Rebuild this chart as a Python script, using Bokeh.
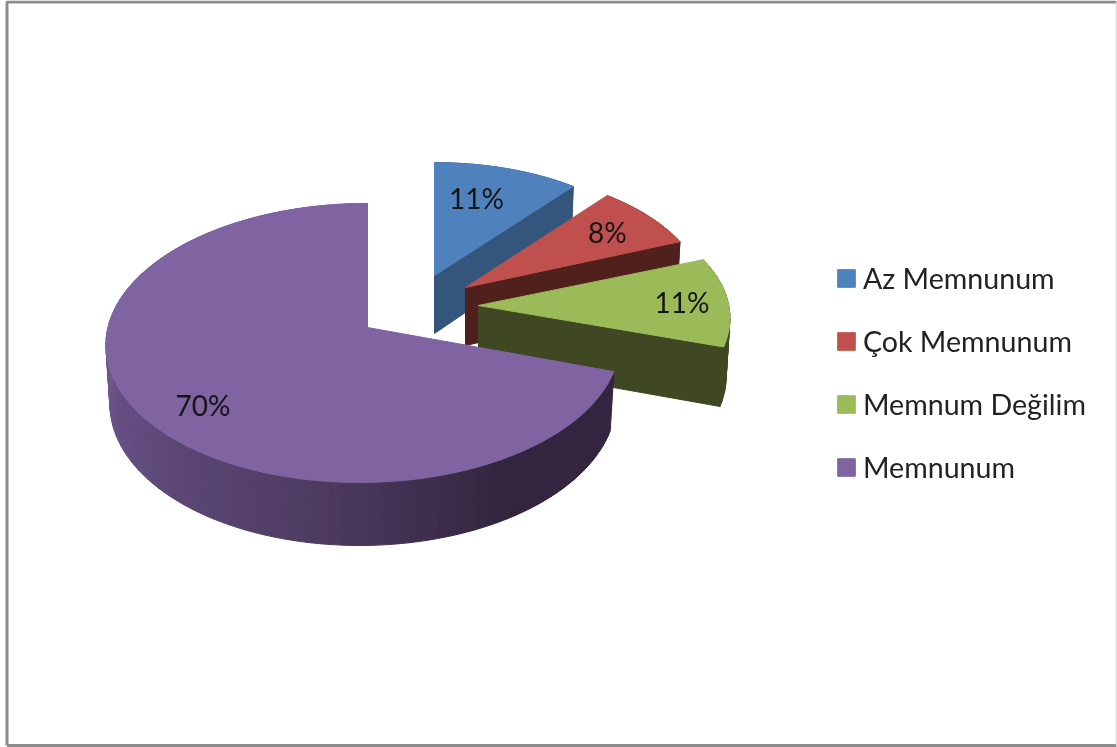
import math
from bokeh.plotting import figure
from bokeh.embed import file_html
from bokeh.resources import INLINE
from bokeh.models import Legend, LegendItem, Range1d
from bokeh.core.properties import value

# ---- data
categories = ["Az Memnunum", "Çok Memnunum", "Memnum Değilim", "Memnunum"]
percents = [11, 8, 11, 70]

# ---- style
top_colors = ["#4f81bd", "#c0504d", "#9bbb59", "#8064a2"]
side_colors = ["#34567c", "#50201c", "#3f4822", None]
grad_thetas = [108, 150, 190, 230, 275]
grad_colors = ["#33253f", "#33253f", "#4f3c61", "#5f4a7c", "#70588f"]
FONT = "Lato"

# ---- layout of the exploded pie (page pixels)
WIDTH, HEIGHT = 1117, 747
apex_x = [434, 465, 478, 367]
apex_y = [275, 287, 305, 327]
scale_x = [0.93, 0.95, 0.995, 1.0]
scale_y = [0.91, 0.94, 0.94, 1.0]
label_r = [0.69, 0.765, 0.815, 0.79]
label_shift = [-3.8, 0, 0, -6]
BX, BY, K, SHEAR = 255.5, 137.8, -0.111, 4.0
DEPTH, DEPTH_GROW, BOTTOM_SHRINK = 58.0, 5.0, 0.985


def project(i, theta, r=1.0, down=False):
    a = math.radians(theta)
    X, Y = r * math.sin(a), -r * math.cos(a)
    w = 1 + K * Y
    dx = scale_x[i] * (BX * X / w - SHEAR * (r + Y))
    dy = scale_y[i] * BY * Y / w
    if down:
        return apex_x[i] + BOTTOM_SHRINK * dx, apex_y[i] + dy + DEPTH + DEPTH_GROW * Y
    return apex_x[i] + dx, apex_y[i] + dy


def mix(theta):
    t = min(max(theta, grad_thetas[0]), grad_thetas[-1])
    for j in range(len(grad_thetas) - 1):
        if t <= grad_thetas[j + 1]:
            f = (t - grad_thetas[j]) / (grad_thetas[j + 1] - grad_thetas[j])
            c0, c1 = grad_colors[j], grad_colors[j + 1]
            rgb = [round(int(c0[k:k + 2], 16) * (1 - f) + int(c1[k:k + 2], 16) * f) for k in (1, 3, 5)]
            return "#%02x%02x%02x" % tuple(rgb)
    return grad_colors[-1]


p = figure(width=WIDTH, height=HEIGHT, output_backend="svg", toolbar_location=None,
           x_range=Range1d(0, WIDTH), y_range=Range1d(HEIGHT, 0),
           min_border=0, outline_line_color=None, background_fill_color="white")
p.axis.visible = False
p.grid.visible = False
p.styles = {"position": "fixed", "left": "0", "top": "0"}

# frame
p.line([6.5, 6.5, 1116], [745, 1.5, 1.5], line_color="#8c8c8c", line_width=3)
p.line([6.5, 1116], [745, 745], line_color="#8c8c8c", line_width=3)
p.line([1116, 1116], [1.5, 745], line_color="#d8d8d8", line_width=1.5)

total = sum(percents)
start = 0.0
legend_items = []
labels = []
for i, pct in enumerate(percents):
    sweep = 360.0 * pct / total
    end = start + sweep
    n = max(2, int(sweep / 2))
    thetas = [start + sweep * t / n for t in range(n + 1)]

    # outer wall, strip by strip so that it can carry a gradient
    xs, ys, cs = [], [], []
    for a, b in zip(thetas[:-1], thetas[1:]):
        pts = [project(i, a), project(i, b), project(i, b, down=True), project(i, a, down=True)]
        xs.append([q[0] for q in pts])
        ys.append([q[1] for q in pts])
        cs.append(side_colors[i] or mix((a + b) / 2))
    p.patches(xs, ys, fill_color=cs, line_color=cs, line_width=1)

    # cut wall that faces the viewer
    if side_colors[i]:
        pts = [project(i, end, 0), project(i, end), project(i, end, down=True), project(i, end, 0, down=True)]
        p.patch([q[0] for q in pts], [q[1] for q in pts], fill_color=side_colors[i],
                line_color=side_colors[i], line_width=1)

    # top face
    pts = [project(i, 0, 0)] + [project(i, t) for t in thetas]
    top = p.patch([q[0] for q in pts], [q[1] for q in pts], fill_color=top_colors[i],
                  line_color=top_colors[i], line_width=1)
    legend_items.append(LegendItem(label=categories[i], renderers=[top]))
    labels.append((project(i, (start + end) / 2 + label_shift[i], label_r[i]), "%d%%" % pct))
    start = end

p.text([q[0][0] for q in labels], [q[0][1] for q in labels], text=[q[1] for q in labels],
       text_font=value(FONT), text_font_size="28px", text_color="#151515",
       text_align="center", text_baseline="middle")

legend = Legend(items=legend_items, location=(827, 254), orientation="vertical",
                background_fill_alpha=0, border_line_alpha=0, margin=0, padding=8,
                glyph_width=22, glyph_height=22, label_standoff=6, spacing=26,
                label_text_font=FONT, label_text_font_size="28.6px", label_text_color="#222222",
                label_height=37)
p.add_layout(legend)

open("out.html", "w").write(file_html(p, INLINE))
